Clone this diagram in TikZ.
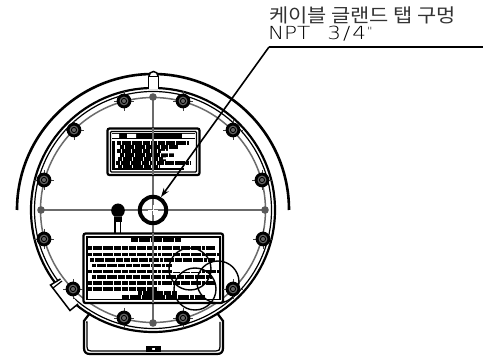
\documentclass[tikz,border=0pt]{standalone}
\usepackage{fontspec}
\newfontfamily\krfont{Noto Sans CJK KR}
\newfontfamily\latfont{DejaVu Sans ExtraLight}
\usetikzlibrary{arrows.meta}
\tikzset{
  outline/.style={draw=black,line width=1.5pt},
  heavy/.style={draw=black,line width=2.2pt},
  grayline/.style={draw=black!58,line width=1.5pt},
  thinline/.style={draw=black,line width=1.2pt},
  txtrow/.style={draw=black,line width=4pt,dash pattern=on 7pt off .7pt on 11pt off .8pt on 4pt off .7pt},
  txtrowb/.style={draw=black,line width=3.6pt,dash pattern=on 4pt off .5pt on 6pt off .7pt on 3pt off .5pt},
  label/.style={anchor=south west,inner sep=0pt,outer sep=0pt}
}
\newcommand{\bigbolt}[2]{%
  \draw[black!75,line width=.9pt] (#1-10,#2)--(#1+10,#2) (#1,#2-10)--(#1,#2+10);
  \fill[black] (#1,#2) circle (7.4);
  \fill[black!60] (#1,#2) circle (4.4);
  \draw[black,line width=.9pt] (#1,#2) circle (2.6);
}
\newcommand{\smallbolt}[2]{%
  \fill[black!65] (#1,#2) circle (3.8);
}
\begin{document}
\begin{tikzpicture}[x=1pt,y=-1pt]
\useasboundingbox (0,0) rectangle (483,358);
\fill[white] (0,0) rectangle (483,358);
\coordinate (c) at (153,210);
% lower bracket
\draw[heavy] (90,313) -- (84,321) -- (84,348) .. controls (84,352) and (86,354) .. (90,354) -- (217,354) .. controls (221,354) and (223,352) .. (223,348) -- (223,321) -- (217,313);
\draw[thinline] (86,322) -- (87,322) -- (87,347) .. controls (87,350) and (88,351) .. (91,351) -- (216,351) .. controls (219,351) and (220,350) .. (220,347) -- (220,322);
\draw[thinline,fill=white] (147,351) rectangle (160,347);
\fill[black] (148,348) rectangle (152,350.5) (155,348) rectangle (159,350.5);
% housing
\draw[heavy] (c) circle (122);
\draw[thinline] (c) circle (118.5);
% outer shield arc
\draw[draw=black,line width=2.6pt] (17,210) arc[start angle=180,end angle=0,x radius=136,y radius=-136];
% top tab
\draw[outline,fill=white] (148.5,89) -- (148.5,76.5) -- (158.5,76.5) -- (158.5,89);
\draw[outline,fill=white] (149,76) arc[start angle=180,end angle=0,x radius=4.5,y radius=-4.5];
% left bracket
\draw[outline,fill=white] (60.5,279) -- (50.5,285) -- (70,310.5) -- (78,304);
\draw[thinline] (53,288) -- (62,281);
% bolt circle and centre lines
\draw[grayline] (c) circle (112.5);
\draw[grayline] (41,210) -- (265,210);
\draw[grayline] (153,97) -- (153,323);
% plate upper
\draw[heavy,rounded corners=2pt,fill=white] (107.5,128.5) rectangle (199.5,175);
\draw[thinline,rounded corners=1pt] (110.5,131.5) rectangle (196.5,172);
\fill[black] (112,133) rectangle (195,139);
\fill[white] (112,134) rectangle (119,138) (127,134) rectangle (136,138) (182,134) rectangle (195,138);
\fill[black] (112,141) rectangle (114.5,170);
\fill[black] (114,168) rectangle (184,170.5);
\foreach \yy/\xa/\xb in {143/117/189,147/120/178,151/117/168,155/120/174,159/118/166,163/116/190,167/118/160}
  \draw[txtrowb] (\xa,\yy) -- (\xb,\yy);
\fill[white] (161,151) rectangle (178,153.5) (163,157.5) rectangle (172,159.5);
% plate lower
\draw[heavy,rounded corners=2pt,fill=white] (83.5,233.5) rectangle (223,303);
\draw[thinline] (87,237) rectangle (220,299.5);
\draw[txtrow] (131,240.5) -- (181,240.5);
\draw[txtrowb] (88,248) -- (215,248);
\draw[txtrowb] (88,254.5) -- (220,254.5);
\draw[txtrowb] (90,260) -- (215,260);
\draw[txtrowb] (92,265.5) -- (205,265.5);
\draw[txtrowb] (88,271.5) -- (219,271.5);
\draw[txtrowb] (92,277) -- (212,277);
\draw[txtrowb] (88,283) -- (215,283);
\draw[txtrowb] (88,289) -- (158,289);
\draw[txtrowb] (138,293) -- (177,293);
\draw[txtrow] (122,297.5) -- (205,297.5);
\fill[white] (172,263) rectangle (205,268) (172,270) rectangle (200,272);
% grey line over plates
\draw[grayline] (153,128) -- (153,175) (153,233) -- (153,303);
% overlapping circles
\draw[draw=black,line width=1.4pt] (218,282) circle (21);
\draw[draw=black,line width=1.4pt] (195,289) circle (21);
\draw[draw=black,line width=1.4pt] (190,269) circle (21);
% bolts
\foreach \xx/\yy in {124/101,183/101,74/130,233/130,44/180,262/180,44/239,263/239,73/289,233/289,124/318,183/318} {
  \bigbolt{\xx}{\yy}
}
\foreach \xx/\yy in {153/97,41/210,265/210,153/323} {
  \smallbolt{\xx}{\yy}
}
% gland
\draw[outline] (115,216) -- (115,233) (120.5,216) -- (120.5,233);
\fill[black] (118,210.5) ellipse (6.8 and 7);
\fill[black] (114,215) rectangle (122,222);
\fill[black!70] (114,216) rectangle (122,217.5);
% conduit hole
\draw[draw=black,line width=4pt] (153,210) circle (13.2);
\draw[draw=white,line width=.8pt] (148,210) -- (158,210) (153,205) -- (153,215);
\coordinate (hole) at (161,197);
% leader
\coordinate (knee) at (269,47);
\coordinate (tailend) at (483,47);
\draw[black,line width=1.6pt,-{Stealth[length=9pt,width=6pt]}] (knee) -- (hole);
\draw[black,line width=2.6pt] (knee) -- (tailend);
\node[label,text=black!80] (title) at (269,24.5) {\krfont\fontsize{19}{19}\selectfont\addfontfeature{FakeStretch=1.1}케이블 글랜드 탭 구멍};
\node[label] (spec) at (268,41.5) {\latfont\fontsize{18}{18}\selectfont\addfontfeature{FakeStretch=1.2}NPT\hspace{17pt}3\hspace{2pt}/\hspace{2pt}4\rlap{\hspace{1pt}\raisebox{5pt}{\fontsize{10}{10}\selectfont\textquotedbl}}};
\end{tikzpicture}
\end{document}
